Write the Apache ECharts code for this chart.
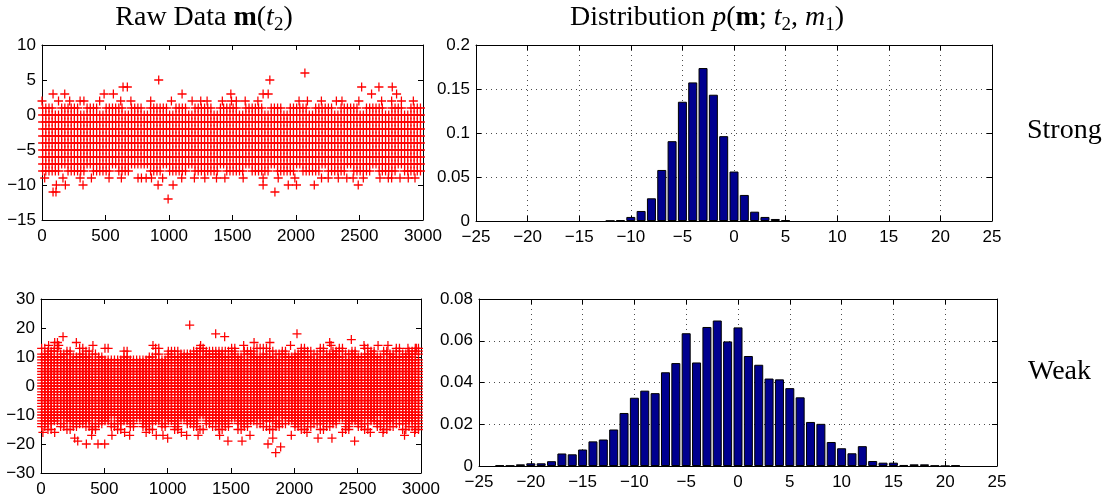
<!DOCTYPE html>
<html lang="en">
<head>
<meta charset="UTF-8">
<title>Raw data and distribution</title>
<script src="https://cdn.jsdelivr.net/npm/echarts@6/dist/echarts.min.js"></script>
<style>
  html, body { margin: 0; background: #fff; }
  #main { width: 1112px; height: 502px; }
</style>
</head>
<body>
<div id="main"></div>
<script>
// histogram bins (bin centre) and relative frequencies
var strongBins = [-12, -11, -10, -9, -8, -7, -6, -5, -4, -3, -2, -1, 0, 1, 2, 3, 4, 5];
var strongFreq = [0.0003, 0.001, 0.0046, 0.0114, 0.0258, 0.058, 0.0907, 0.1355, 0.1575, 0.1738,
                  0.1435, 0.0964, 0.0562, 0.0296, 0.0106, 0.0046, 0.0023, 0.0008];

var weakBins = [-23, -22, -21, -20, -19, -18, -17, -16, -15, -14, -13, -12, -11, -10, -9, -8, -7, -6, -5, -4, -3, -2, -1,
                0, 1, 2, 3, 4, 5, 6, 7, 8, 9, 10, 11, 12, 13, 14, 15, 16, 17, 18, 19, 20, 21];
var weakFreq = [0.0003, 0.0002, 0.0008, 0.0013, 0.0013, 0.0023, 0.006, 0.0056, 0.0079, 0.0118, 0.0127, 0.0175,
                0.0254, 0.0327, 0.0361, 0.0349, 0.0449, 0.0493, 0.0636, 0.0496, 0.0666, 0.0697, 0.0597,
                0.0664, 0.0527, 0.0485, 0.0419, 0.0415, 0.0373, 0.0329, 0.0211, 0.0202, 0.0115, 0.0085,
                0.0061, 0.0095, 0.0024, 0.0016, 0.0016, 0.0005, 0.0008, 0.0008, 0.0002, 0, 0.0003];

// rows covered end to end
var strongFullRows = [-7, -6, -5, -4, -3, -2, -1, 0];
// partly covered rows: one char per 50 samples, '1' where the chunk has marks
var strongPartRows = [1, -8];
var strongPartMasks = [
  '1101110110 1110110111 0110111011 1011101101 1101110111 0111011011',
  '1110111011 1011000110 1110111101 1101110111 0111011101 1101110111'
];
// single marks [sample, value]
var strongOutliers = [
  [0, 2], [130, 2], [218, 2], [300, 2], [330, 2], [454, 2], [620, 2], [700, 2], [856, 2], [1019, 2], [1182, 2],
  [1250, 2], [1300, 2], [1420, 2], [1492, 2], [1530, 2], [1600, 2], [1700, 2], [2024, 2], [2090, 2], [2200, 2],
  [2318, 2], [2362, 2], [2495, 2], [2674, 2], [2753, 2], [2830, 2], [2924, 2],
  [87, 3], [179, 3], [489, 3], [562, 3], [1103, 3], [1487, 3], [1741, 3], [1781, 3], [2595, 3], [2792, 3],
  [638, 4], [672, 4], [2517, 4], [2653, 4], [2758, 4],
  [919, 5], [1794, 5], [2070, 6],
  [21, -9], [165, -9], [300, -9], [389, -9], [528, -9], [625, -9], [756, -9], [783, -9], [820, -9], [862, -9],
  [950, -9], [1100, -9], [1200, -9], [1282, -9], [1374, -9], [1440, -9], [1584, -9], [1741, -9], [1860, -9],
  [1991, -9], [2201, -9], [2254, -9], [2333, -9], [2400, -9], [2450, -9], [2530, -9], [2661, -9], [2727, -9],
  [2753, -9], [2819, -9], [2884, -9], [2937, -9],
  [113, -10], [184, -10], [323, -10], [914, -10], [1032, -10], [1741, -10], [1939, -10], [2004, -10], [2144, -10], [2490, -10],
  [87, -11], [110, -11], [1834, -11], [993, -12]
];

var weakFullRows = [-10, -9, -8, -7, -6, -5, -4, -3, -2, -1, 0, 1, 2, 3, 4, 5, 6, 7, 8, 9];
var weakPartRows = [10, 11, 12, 13, -11, -12, -13, -14, -15];
var weakPartMasks = [
  '1111011101 0001000100 1111111111 1101111011 1110111101 1111011110',
  '1101101010 0000000010 1011101110 1011010110 1101011011 0110110111',
  '0110100100 0001000000 1100111111 1011001010 0110101101 0010101011',
  '1010001000 1000000010 0000010000 1000110000 0100100100 0100001001',
  '1111111111 1011111111 1111101111 1111111011 1111111111 1110111111',
  '1110111101 1011101110 1101101111 0111011101 1110111011 1011110111',
  '1101011011 0110101101 0101101011 0110100110 1101101010 1101101101',
  '1001010110 0100101001 0100100101 0010010100 1010010010 1001010011',
  '0100100010 0010000100 0100010010 0100001000 0100100010 0100100101'
];
var weakOutliers = [
  [174, 17], [108, 15], [279, 15], [130, 15], [60, 14], [140, 14], [410, 14], [884, 14], [1174, 21], [1379, 18],
  [1450, 17], [1682, 15], [1807, 15], [1970, 14], [2021, 18], [2279, 15], [2290, 14], [2450, 16], [2661, 14],
  [2739, 14], [2897, 13], [2963, 13], [1260, 14], [1600, 14], [2550, 14],
  [15, -16], [108, -16], [266, -18], [290, -19], [358, -20], [400, -17], [450, -20], [503, -20], [560, -17],
  [660, -16], [700, -17], [830, -16], [910, -17], [963, -17], [1000, -18], [1108, -16], [1150, -17], [1240, -17],
  [1410, -17], [1476, -19], [1587, -19], [1650, -17], [1792, -20], [1830, -18], [1853, -23], [1892, -21],
  [1976, -17], [2100, -16], [2187, -18], [2297, -18], [2380, -16], [2476, -19], [2600, -16], [2700, -16],
  [2870, -17], [2950, -16]
];

var COLS = 60, STEP = 50;

// a covered 50-sample chunk is drawn as marks at the chunk start and middle
function chunkMarks(pts, i, y) {
  pts.push([i * STEP + 5, y]);
  pts.push([i * STEP + 30, y]);
}

function rowsToPoints(fullRows, partRows, masks, extra) {
  var pts = [];
  fullRows.forEach(function (y) {
    for (var i = 0; i < COLS; i++) chunkMarks(pts, i, y);
  });
  partRows.forEach(function (y, k) {
    var m = masks[k].replace(/ /g, '');
    for (var i = 0; i < Math.min(COLS, m.length); i++) {
      if (m[i] === '1') chunkMarks(pts, i, y);
    }
  });
  return pts.concat(extra);
}

function toPairs(bins, freq) {
  return bins.map(function (b, i) { return [b, freq[i]]; });
}

var sans = 'Liberation Sans';
var serif = 'Liberation Serif';

function minus(v) { return String(v).replace('-', '\u2212'); }

function axis(dim, gi, min, max, step, grid) {
  var pos = dim === 'x' ? 'bottom' : 'left';
  var main = {
    type: 'value', gridIndex: gi, min: min, max: max, interval: step, position: pos,
    axisLine: { show: true, onZero: false, lineStyle: { color: '#000', width: 1 } },
    axisTick: { show: true, inside: true, length: 5, lineStyle: { color: '#000' } },
    axisLabel: { show: true, color: '#000', fontFamily: sans, fontSize: 17, margin: dim === 'x' ? 8 : 6, formatter: minus },
    splitLine: grid ? { show: true, lineStyle: { color: '#000', type: [1, 4], width: 1, opacity: 0.7 } } : { show: false }
  };
  var mirror = {
    type: 'value', gridIndex: gi, min: min, max: max, interval: step, position: dim === 'x' ? 'top' : 'right',
    axisLine: { show: true, onZero: false, lineStyle: { color: '#000', width: 1 } },
    axisTick: { show: true, inside: true, length: 5, lineStyle: { color: '#000' } },
    axisLabel: { show: false },
    splitLine: { show: false }
  };
  return [main, mirror];
}

var grids = [
  { left: 42, top: 45, width: 381, height: 175 },
  { left: 476, top: 45, width: 516, height: 176 },
  { left: 41, top: 299, width: 380, height: 174 },
  { left: 479, top: 299, width: 518, height: 167 }
];

var xAxes = [].concat(
  axis('x', 0, 0, 3000, 500, false),
  axis('x', 1, -25, 25, 5, true),
  axis('x', 2, 0, 3000, 500, false),
  axis('x', 3, -25, 25, 5, true)
);
var yAxes = [].concat(
  axis('y', 0, -15, 10, 5, false),
  axis('y', 1, 0, 0.2, 0.05, true),
  axis('y', 2, -30, 30, 10, false),
  axis('y', 3, 0, 0.08, 0.02, true)
);

var plusPath = 'path://M4.3,0H5.7V4.3H10V5.7H5.7V10H4.3V5.7H0V4.3H4.3Z';

function scatterSeries(gi, pts) {
  return {
    type: 'scatter', xAxisIndex: gi * 2, yAxisIndex: gi * 2, data: pts, large: false,
    symbol: plusPath, symbolSize: 9,
    itemStyle: { color: '#ff0000', opacity: 1 },
    silent: true
  };
}

function barSeries(gi, pts) {
  return {
    type: 'bar', xAxisIndex: gi * 2, yAxisIndex: gi * 2, data: pts, barWidth: 9,
    itemStyle: { color: '#00008f', borderColor: '#000', borderWidth: 1 },
    silent: true
  };
}

var rich = {
  r: { fontFamily: serif, fontSize: 28, lineHeight: 34, color: '#000' },
  b: { fontFamily: serif, fontSize: 28, fontWeight: 'bold', lineHeight: 34, color: '#000' },
  i: { fontFamily: serif, fontSize: 28, fontStyle: 'italic', lineHeight: 34, color: '#000' },
  s: { fontFamily: serif, fontSize: 19, lineHeight: 19, verticalAlign: 'bottom', color: '#000' }
};

function label(text, x, y, align) {
  return {
    type: 'text', x: x, y: y,
    style: { text: text, rich: rich, textAlign: align, textVerticalAlign: 'middle' }
  };
}

var chart = echarts.init(document.getElementById('main'));
chart.setOption({
  animation: false,
  backgroundColor: '#fff',
  grid: grids,
  xAxis: xAxes,
  yAxis: yAxes,
  series: [
    scatterSeries(0, rowsToPoints(strongFullRows, strongPartRows, strongPartMasks, strongOutliers)),
    barSeries(1, toPairs(strongBins, strongFreq)),
    scatterSeries(2, rowsToPoints(weakFullRows, weakPartRows, weakPartMasks, weakOutliers)),
    barSeries(3, toPairs(weakBins, weakFreq))
  ],
  graphic: [
    label('{r|Raw Data }{b|m}{r|(}{i|t}{s|2}{r|)}', 204, 18, 'center'),
    label('{r|Distribution }{i|p}{r|(}{b|m}{r|; }{i|t}{s|2}{r|, }{i|m}{s|1}{r|)}', 707, 18, 'center'),
    label('{r|Strong}', 1027, 131, 'left'),
    label('{r|Weak}', 1028, 372, 'left')
  ]
});
</script>
</body>
</html>
